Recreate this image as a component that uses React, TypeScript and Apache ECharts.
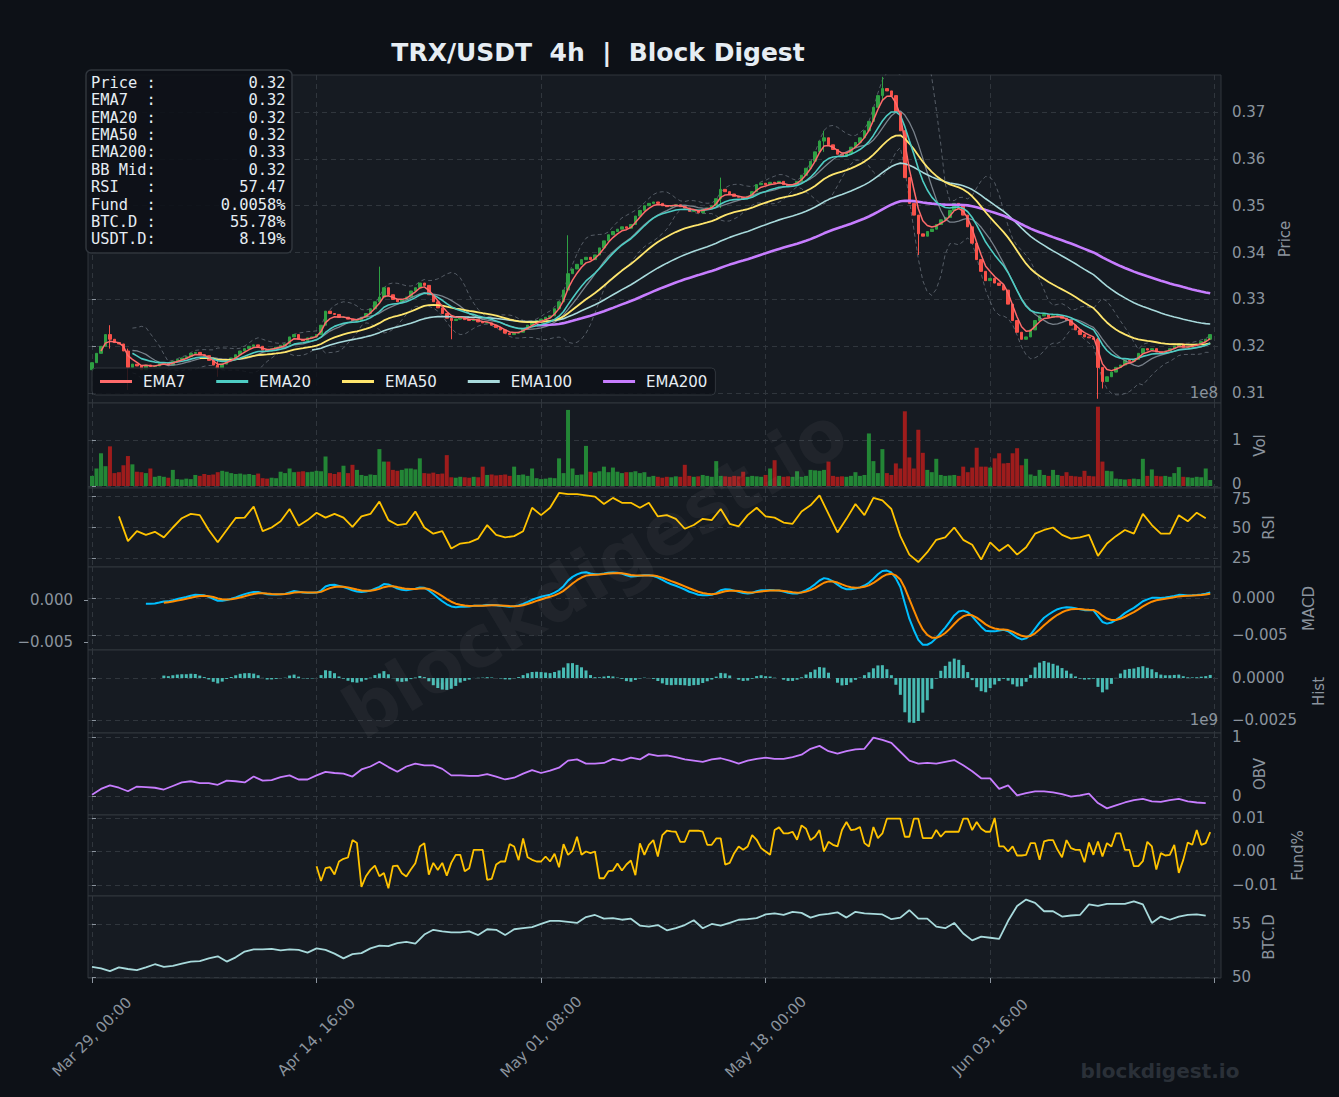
import React, { useEffect, useRef } from 'react';
import * as echarts from 'echarts';

// ---------------- DATA (8h steps) ----------------
const START_MS = Date.UTC(2025, 2, 29, 0, 0);
const STEP_MS = 8 * 3600 * 1000;
const FIRST_OPEN = 0.3150;

const closes: number[] = [
  0.3165,0.3185,0.3200,0.3225,0.3215,0.3208,0.3205,0.3190,0.3155,0.3162,
  0.3158,0.3150,0.3160,0.3157,0.3158,0.3163,0.3165,0.3160,0.3168,0.3172,
  0.3175,0.3178,0.3185,0.3187,0.3182,0.3180,0.3170,0.3160,0.3152,0.3162,
  0.3170,0.3175,0.3182,0.3190,0.3195,0.3200,0.3203,0.3200,0.3192,0.3190,
  0.3195,0.3198,0.3202,0.3205,0.3220,0.3225,0.3215,0.3212,0.3218,0.3220,
  0.3225,0.3245,0.3275,0.3270,0.3268,0.3262,0.3262,0.3258,0.3255,0.3255,
  0.3262,0.3270,0.3280,0.3295,0.3305,0.3325,0.3310,0.3300,0.3295,0.3300,
  0.3305,0.3318,0.3325,0.3335,0.3330,0.3310,0.3295,0.3282,0.3270,0.3260,
  0.3255,0.3258,0.3262,0.3257,0.3255,0.3258,0.3252,0.3250,0.3250,0.3245,
  0.3240,0.3235,0.3228,0.3225,0.3228,0.3230,0.3238,0.3245,0.3252,0.3255,
  0.3258,0.3262,0.3265,0.3280,0.3295,0.3320,0.3355,0.3365,0.3375,0.3385,
  0.3390,0.3385,0.3395,0.3410,0.3425,0.3438,0.3445,0.3450,0.3455,0.3452,
  0.3460,0.3478,0.3490,0.3500,0.3505,0.3508,0.3505,0.3500,0.3498,0.3500,
  0.3502,0.3498,0.3495,0.3488,0.3490,0.3485,0.3492,0.3495,0.3500,0.3515,
  0.3535,0.3530,0.3525,0.3520,0.3518,0.3515,0.3520,0.3530,0.3545,0.3548,
  0.3545,0.3550,0.3548,0.3552,0.3545,0.3542,0.3545,0.3552,0.3565,0.3580,
  0.3595,0.3615,0.3638,0.3645,0.3630,0.3620,0.3610,0.3605,0.3612,0.3625,
  0.3635,0.3645,0.3660,0.3680,0.3710,0.3735,0.3750,0.3745,0.3735,0.3700,
  0.3660,0.3560,0.3505,0.3480,0.3440,0.3435,0.3445,0.3450,0.3460,0.3470,
  0.3475,0.3490,0.3505,0.3500,0.3480,0.3455,0.3420,0.3385,0.3360,0.3340,
  0.3345,0.3335,0.3330,0.3320,0.3290,0.3255,0.3230,0.3215,0.3220,0.3235,
  0.3255,0.3265,0.3268,0.3262,0.3265,0.3265,0.3260,0.3255,0.3245,0.3235,
  0.3225,0.3220,0.3218,0.3215,0.3155,0.3125,0.3135,0.3145,0.3155,0.3160,
  0.3170,0.3168,0.3172,0.3185,0.3195,0.3192,0.3195,0.3188,0.3185,0.3190,
  0.3195,0.3200,0.3205,0.3198,0.3198,0.3202,0.3205,0.3210,0.3215,0.3225,
];

// notable wicks: [index, high, low]
const wicks: [number, number, number][] = [
  [4, 0.3245, 0.3195], [8, 0.3195, 0.3107], [28, 0.3170, 0.3135], [64, 0.3370, 0.3290],
  [80, 0.3262, 0.3215], [106, 0.3437, 0.3320], [140, 0.3560, 0.3495], [163, 0.3660, 0.3615],
  [176, 0.3775, 0.3725], [184, 0.3445, 0.3395], [224, 0.3218, 0.3088], [225, 0.3150, 0.3110],
];

// volume in units of 1e8
const volumes: number[] = [
  0.22,0.38,0.71,0.43,0.86,0.28,0.30,0.45,0.65,0.47,
  0.31,0.30,0.28,0.38,0.20,0.22,0.20,0.18,0.35,0.15,
  0.14,0.16,0.15,0.24,0.22,0.26,0.24,0.25,0.30,0.33,
  0.31,0.28,0.26,0.27,0.25,0.26,0.24,0.27,0.17,0.16,
  0.18,0.17,0.31,0.28,0.38,0.30,0.31,0.32,0.30,0.31,
  0.33,0.32,0.64,0.28,0.26,0.30,0.44,0.28,0.46,0.35,
  0.24,0.22,0.25,0.24,0.80,0.53,0.53,0.35,0.33,0.35,
  0.38,0.38,0.36,0.60,0.28,0.27,0.29,0.26,0.27,0.67,
  0.19,0.18,0.20,0.19,0.18,0.20,0.19,0.42,0.24,0.25,
  0.23,0.24,0.25,0.22,0.42,0.24,0.25,0.22,0.38,0.17,
  0.15,0.16,0.18,0.17,0.60,0.28,1.65,0.38,0.24,0.25,
  0.87,0.31,0.29,0.32,0.42,0.30,0.40,0.31,0.28,0.30,
  0.30,0.32,0.28,0.30,0.20,0.22,0.20,0.18,0.20,0.19,
  0.21,0.20,0.46,0.22,0.20,0.21,0.24,0.22,0.20,0.54,
  0.22,0.21,0.20,0.22,0.21,0.31,0.20,0.22,0.21,0.20,
  0.24,0.38,0.56,0.22,0.20,0.21,0.20,0.32,0.20,0.22,
  0.35,0.34,0.33,0.35,0.53,0.22,0.20,0.21,0.20,0.22,
  0.30,0.22,0.24,1.14,0.54,0.28,0.80,0.28,0.24,0.49,
  0.38,1.62,0.62,0.38,1.22,0.72,0.35,0.30,0.59,0.24,
  0.22,0.23,0.24,0.22,0.42,0.30,0.40,0.83,0.42,0.42,
  0.40,0.60,0.71,0.49,0.50,0.71,0.82,0.45,0.59,0.25,
  0.22,0.35,0.24,0.22,0.35,0.24,0.22,0.30,0.22,0.21,
  0.20,0.33,0.22,0.21,1.72,0.53,0.33,0.32,0.16,0.15,
  0.14,0.15,0.16,0.15,0.59,0.22,0.36,0.22,0.21,0.22,
  0.20,0.28,0.41,0.20,0.19,0.18,0.20,0.19,0.38,0.13,
];

// RSI read at every 2nd step from index 6
const RSI_START = 6;
const rsiValues: number[] = [
  59,39,47,44,46.5,42,50,57.5,61,60,48,38,48,57.7,58,67,47,50,55,65,
  51.5,56,62,58,61,58,50.5,59,61,71,56,52,53,63,50,45,47,33,37,38,
  41,52,44,42,43,47,66,60,66,78,77,77,76,75,69,74,70,70,66,70,
  59,60,57,49,52,57,56,65,53,51,60,66,59,58,54,53,63,68,76,61,
  46,57,69,60,74,72,65,43,28,22,30,40,42,50,40,36,24,38,31,36,
  28,34,45,48,50,44,41,42,44,27,37,43,48,45,61,52,45,45,60,55,
  62,57.47,
];

// OBV (units of 1e9) every 2nd step from index 0
const obvValues: number[] = [
  0.02,0.12,0.18,0.14,0.08,0.16,0.15,0.14,0.11,0.17,
  0.23,0.25,0.22,0.22,0.19,0.26,0.25,0.23,0.33,0.26,
  0.27,0.32,0.35,0.28,0.28,0.35,0.41,0.39,0.38,0.33,
  0.45,0.50,0.58,0.49,0.41,0.50,0.55,0.52,0.52,0.46,
  0.35,0.35,0.34,0.34,0.37,0.33,0.28,0.31,0.38,0.44,
  0.39,0.43,0.48,0.60,0.62,0.55,0.55,0.56,0.63,0.60,
  0.65,0.62,0.71,0.68,0.69,0.66,0.62,0.60,0.58,0.62,
  0.64,0.60,0.55,0.60,0.63,0.65,0.63,0.63,0.66,0.70,
  0.80,0.85,0.76,0.72,0.76,0.79,0.80,0.99,0.95,0.90,
  0.75,0.60,0.55,0.56,0.55,0.58,0.61,0.52,0.42,0.30,
  0.30,0.12,0.18,0.01,0.05,0.08,0.08,0.06,0.03,-0.01,
  0.01,0.04,-0.12,-0.21,-0.16,-0.11,-0.07,-0.05,-0.09,-0.10,
  -0.07,-0.05,-0.09,-0.11,-0.12,
];

// funding rate (%) per step from index 50
const FUND_START = 50;
const fundValues: number[] = [
  -0.0044,-0.0088,-0.0050,-0.0047,-0.0069,-0.0030,-0.0022,-0.0018,0.0034,0.0025,
  -0.0106,-0.0074,-0.0055,-0.0042,-0.0074,-0.0064,-0.0110,-0.0044,-0.0042,-0.0065,
  -0.0075,-0.0054,-0.0035,0.0015,0.0025,-0.0069,-0.0034,-0.0055,-0.0034,-0.0072,
  -0.0034,-0.0010,-0.0010,-0.0059,-0.0050,0.0005,0.0005,0.0005,-0.0085,-0.0082,
  -0.0039,-0.0030,-0.0030,0.0022,0.0015,-0.0026,0.0039,-0.0017,-0.0025,-0.0030,
  -0.0030,-0.0015,-0.0030,-0.0007,-0.0047,0.0022,-0.0010,0.0002,0.0044,-0.0010,
  0.0000,-0.0005,0.0000,-0.0080,-0.0080,-0.0059,-0.0057,-0.0036,-0.0057,-0.0039,
  -0.0027,-0.0071,0.0024,-0.0010,0.0020,0.0034,-0.0015,0.0049,0.0062,0.0060,
  0.0059,0.0029,0.0029,0.0062,0.0062,0.0062,0.0059,0.0020,0.0020,0.0039,
  0.0039,-0.0039,-0.0034,-0.0005,0.0015,0.0005,0.0015,0.0049,0.0035,0.0010,
  0.0000,-0.0010,0.0064,0.0072,0.0054,0.0054,0.0059,0.0035,0.0078,0.0068,
  0.0034,0.0044,0.0064,0.0000,0.0029,0.0020,0.0015,0.0064,0.0088,0.0064,
  0.0066,0.0073,0.0025,0.0015,0.0073,0.0040,0.0054,0.0098,0.0098,0.0098,
  0.0098,0.0044,0.0044,0.0098,0.0098,0.0040,0.0040,0.0040,0.0064,0.0044,
  0.0059,0.0059,0.0059,0.0059,0.0098,0.0098,0.0064,0.0088,0.0068,0.0059,
  0.0059,0.0100,0.0015,0.0015,0.0000,0.0015,-0.0012,-0.0012,-0.0010,0.0025,
  0.0025,-0.0025,0.0030,0.0034,0.0034,0.0005,-0.0017,0.0034,0.0010,0.0005,
  0.0005,-0.0032,0.0027,-0.0010,0.0030,-0.0015,0.0025,0.0015,0.0054,0.0054,
  0.0005,0.0005,-0.0044,-0.0044,-0.0029,0.0029,0.0015,-0.0054,-0.0005,-0.0012,
  -0.0010,0.0020,-0.0064,-0.0025,0.0027,0.0020,0.0064,0.0020,0.0025,0.0058,
];

// BTC dominance (%) every 2nd step from index 0
const btcdValues: number[] = [
  50.94,50.80,50.55,50.90,50.75,50.65,50.90,51.20,50.95,51.05,
  51.25,51.45,51.50,51.75,51.95,51.45,51.85,52.40,52.60,52.60,
  52.65,52.50,52.60,52.55,52.30,52.70,52.55,52.20,51.75,52.15,
  52.25,52.70,52.95,52.90,53.20,53.30,53.15,54.00,54.45,54.30,
  54.20,54.20,54.30,53.95,54.50,54.45,53.95,54.50,54.60,54.70,
  55.00,55.30,55.30,55.20,55.10,55.65,55.85,55.50,55.55,55.40,
  55.50,54.85,54.75,54.90,54.40,54.60,54.90,55.35,54.60,55.00,
  54.85,55.10,55.40,55.45,55.55,55.90,56.00,55.85,56.15,56.05,
  55.60,55.85,55.95,56.10,55.60,56.15,56.00,55.95,55.90,55.45,
  55.60,56.30,55.50,55.50,54.75,54.60,55.10,54.10,53.45,53.80,
  53.70,53.60,55.30,56.70,57.30,57.00,56.20,56.20,55.70,55.80,
  55.85,56.85,56.70,56.90,56.90,56.90,57.14,56.85,55.10,55.70,
  55.40,55.70,55.85,55.90,55.78,
];

const USDT_D = 8.19;

const X_TICKS = [0, 50, 100, 150, 200, 250];
const X_LABELS = [0, 50, 100, 150, 200];
const MONTHS = ['Jan','Feb','Mar','Apr','May','Jun','Jul','Aug','Sep','Oct','Nov','Dec'];

// ---------------- STYLE ----------------
const FIG_BG = '#0d1117';
const PANEL_BG = '#161b22';
const BORDER = '#30363d';
const GRIDC = '#30363d';
const GRAY = '#8b949e';
const TXT = '#e6edf3';
const UP = '#2ea043';
const DN = '#f85149';
const FONT = 'DejaVu Sans';
const FS = 15;

// ---------------- helpers ----------------
const pad2 = (n: number) => String(n).padStart(2, '0');
const fmtDate = (j: number) => {
  const d = new Date(START_MS + j * STEP_MS);
  return `${MONTHS[d.getUTCMonth()]} ${pad2(d.getUTCDate())}, ${pad2(d.getUTCHours())}:${pad2(d.getUTCMinutes())}`;
};
const minus = (s: string) => s.replace('-', '\u2212');

// EMA with a 4h span applied on 8h steps (pandas adjust=True)
function ewmAdj(src: number[], span: number, minP: number): (number | null)[] {
  const d = Math.pow(1 - 2 / (span + 1), 2);
  let num = 0, den = 0;
  return src.map((x, i) => {
    num = num * d + x; den = den * d + 1;
    return i >= minP - 1 ? num / den : null;
  });
}
function ewmRec(src: number[], span: number): number[] {
  const a = 1 - Math.pow(1 - 2 / (span + 1), 2);
  let y = src[0];
  return src.map((x, i) => (y = i === 0 ? x : y + a * (x - y)));
}
function sma(src: number[], n: number) {
  const mid: (number | null)[] = [], up: (number | null)[] = [], lo: (number | null)[] = [];
  src.forEach((_, i) => {
    if (i < n - 1) { mid.push(null); up.push(null); lo.push(null); return; }
    const w = src.slice(i - n + 1, i + 1);
    const m = w.reduce((a, b) => a + b, 0) / n;
    const sd = Math.sqrt(w.reduce((a, b) => a + (b - m) * (b - m), 0) / (n - 1));
    mid.push(m); up.push(m + 2 * sd); lo.push(m - 2 * sd);
  });
  return { mid, up, lo };
}
const pairs = (arr: (number | null)[]) => arr.map((v, i) => [i, v]).filter(p => p[1] != null);

export default function App() {
  const ref = useRef<HTMLDivElement>(null);
  useEffect(() => {
    const chart = echarts.init(ref.current!, null, { renderer: 'svg' });

    const opens = closes.map((_, j) => (j === 0 ? FIRST_OPEN : closes[j - 1]));
    const candle = closes.map((c, j) => {
      const o = opens[j];
      let hi = Math.max(o, c), lo = Math.min(o, c);
      const w = wicks.find(x => x[0] === j);
      if (w) { hi = Math.max(hi, w[1]); lo = Math.min(lo, w[2]); }
      return [j, o, c, lo, hi];
    });

    const ema7 = ewmAdj(closes, 7, 3);
    const ema20 = ewmAdj(closes, 20, 10);
    const ema50 = ewmAdj(closes, 50, 25);
    const ema100 = ewmAdj(closes, 100, 50);
    const ema200 = ewmAdj(closes, 200, 100);
    const bb = sma(closes, 10);

    const e12 = ewmRec(closes, 12), e26 = ewmRec(closes, 26);
    const MACD_START = 12;
    const macdRaw = closes.map((_, i) => e12[i] - e26[i]);
    const sigRaw = ewmRec(macdRaw.slice(MACD_START), 9);
    const SIG_START = MACD_START + 4;
    const macd = macdRaw.map((v, i) => (i >= MACD_START ? v : null));
    const signal = closes.map((_, i) => (i >= SIG_START ? sigRaw[i - MACD_START] : null));
    const hist = closes.map((_, i) => (i >= SIG_START ? macdRaw[i] - sigRaw[i - MACD_START] : null));

    const last = closes.length - 1;
    const info: [string, string][] = [
      ['Price :', closes[last].toFixed(2)],
      ['EMA7  :', (ema7[last] as number).toFixed(2)],
      ['EMA20 :', (ema20[last] as number).toFixed(2)],
      ['EMA50 :', (ema50[last] as number).toFixed(2)],
      ['EMA200:', (ema200[last] as number).toFixed(2)],
      ['BB Mid:', (bb.mid[last] as number).toFixed(2)],
      ['RSI   :', rsiValues[rsiValues.length - 1].toFixed(2)],
      ['Fund  :', fundValues[fundValues.length - 1].toFixed(4) + '%'],
      ['BTC.D :', btcdValues[btcdValues.length - 1].toFixed(2) + '%'],
      ['USDT.D:', USDT_D.toFixed(2) + '%'],
    ];
    const infoText = info.map(([k, v]) => k + v.padStart(14)).join('\n');

    const panels = [
      { top: 75, h: 328 }, { top: 403, h: 85 }, { top: 488, h: 79 }, { top: 567, h: 83 },
      { top: 650, h: 83 }, { top: 733, h: 82 }, { top: 815, h: 81 }, { top: 896, h: 82 },
    ];
    const grid = panels.map(p => ({
      left: 88, width: 1133, top: p.top, height: p.h, show: true,
      backgroundColor: PANEL_BG, borderColor: BORDER, borderWidth: 1, containLabel: false,
    }));
    const dash = { color: GRIDC, type: [5, 4] as any, width: 1 };

    const xAxis = panels.map((_, i) => {
      const bottom = i === panels.length - 1;
      return {
        type: 'value', gridIndex: i, min: -0.89, max: 251.4,
        axisLine: { show: false },
        axisTick: { show: bottom, customValues: X_TICKS, length: 5, lineStyle: { color: GRAY } },
        axisLabel: bottom
          ? { show: true, customValues: X_LABELS, formatter: (v: number) => fmtDate(v), rotate: 45,
              align: 'center', verticalAlign: 'middle', margin: 59, color: GRAY, fontSize: FS, fontFamily: FONT }
          : { show: false },
        splitLine: { show: true, lineStyle: dash },
      };
    });

    // rich styles used to nudge the two touching labels (Vol "0" / RSI "75") apart slightly
    const rich = {
      up: { color: GRAY, fontSize: FS, fontFamily: FONT, padding: [0, 0, 5, 0], lineHeight: 11 },
      dn: { color: GRAY, fontSize: FS, fontFamily: FONT, padding: [5, 0, 0, 0], lineHeight: 11 },
    };

    const yAx = (gi: number, min: number, max: number, ticks: number[], fmt: (v: number) => string,
      name: string, gap: number, position = 'right', split = true, margin = 11) => ({
      type: 'value', gridIndex: gi, position, min, max,
      axisLine: { show: false },
      axisTick: { show: true, customValues: ticks, length: 4, lineStyle: { color: GRAY } },
      axisLabel: { show: true, customValues: ticks, formatter: fmt, color: GRAY, fontSize: FS, lineHeight: 11, fontFamily: FONT, margin, rich },
      splitLine: { show: split, lineStyle: dash },
      name, nameLocation: 'middle', nameGap: gap, nameRotate: 90,
      nameTextStyle: { color: GRAY, fontSize: 15, fontFamily: FONT },
    });

    const yAxis = [
      yAx(0, 0.3079, 0.3779, [0.31, 0.32, 0.33, 0.34, 0.35, 0.36, 0.37], v => v.toFixed(2), 'Price', 56),
      yAx(1, -0.043, 1.80, [0, 1], v => (v === 0 ? '{up|0}' : v.toFixed(0)), 'Vol', 29),
      yAx(2, 18, 82, [25, 50, 75], v => (v === 75 ? '{dn|75}' : v.toFixed(0)), 'RSI', 40),
      yAx(3, -0.0070, 0.0042, [-0.005, 0], v => minus(v.toFixed(3)), 'MACD', 80),
      yAx(4, -0.00327, 0.00167, [-0.0025, 0], v => minus(v.toFixed(4)), 'Hist', 90),
      yAx(5, -0.322, 1.068, [0, 1], v => v.toFixed(0), 'OBV', 28),
      yAx(6, -0.0133, 0.0109, [-0.01, 0, 0.01], v => minus(v.toFixed(2)), 'Fund%', 69),
      yAx(7, 49.9, 57.64, [50, 55], v => v.toFixed(0), 'BTC.D', 39),
      yAx(3, -0.00595, 0.0039, [-0.005, 0], v => minus(v.toFixed(3)), '', 0, 'left', false, 15),
    ];

    const line = (name: string, data: any[], color: string, width: number, xi: number, yi: number, extra: any = {}) => ({
      type: 'line', name, data, xAxisIndex: xi, yAxisIndex: yi, showSymbol: false, symbol: 'none',
      lineStyle: { color, width, ...(extra.lineStyle || {}) }, itemStyle: { color }, z: extra.z ?? 3,
      silent: true, clip: true,
    });

    const series: any[] = [
      {
        type: 'candlestick', name: 'Price', xAxisIndex: 0, yAxisIndex: 0, data: candle,
        encode: { x: 0, y: [1, 2, 3, 4] }, barWidth: 3,
        itemStyle: { color: UP, color0: DN, borderColor: UP, borderColor0: DN, borderWidth: 1 }, z: 2,
      },
      line('BB Up', pairs(bb.up), 'rgba(139,148,158,0.55)', 1, 0, 0, { lineStyle: { type: [4, 3] }, z: 2 }),
      line('BB Lo', pairs(bb.lo), 'rgba(139,148,158,0.55)', 1, 0, 0, { lineStyle: { type: [4, 3] }, z: 2 }),
      line('BB Mid', pairs(bb.mid), 'rgba(139,148,158,0.85)', 1.3, 0, 0),
      line('EMA100', pairs(ema100), '#a8dadc', 1.6, 0, 0),
      line('EMA200', pairs(ema200), '#c77dff', 2.6, 0, 0),
      line('EMA50', pairs(ema50), '#ffe66d', 1.8, 0, 0),
      line('EMA20', pairs(ema20), '#4ecdc4', 1.6, 0, 0),
      line('EMA7', pairs(ema7), '#ff6b6b', 1.5, 0, 0),
      {
        type: 'bar', name: 'Vol', xAxisIndex: 1, yAxisIndex: 1, barWidth: 4,
        data: volumes.map((v, j) => ({ value: [j, v], itemStyle: { color: closes[j] >= opens[j] ? '#238636' : '#9e1c1c' } })),
      },
      line('RSI', rsiValues.map((v, k) => [RSI_START + 2 * k, v]), '#ffc300', 1.8, 2, 2),
      line('MACD', pairs(macd), '#00bfff', 2, 3, 3),
      line('Signal', pairs(signal), '#ff8c00', 2, 3, 3),
      {
        type: 'bar', name: 'Hist', xAxisIndex: 4, yAxisIndex: 4, barWidth: 3,
        data: pairs(hist), itemStyle: { color: 'rgba(78,205,196,0.9)' },
      },
      line('OBV', obvValues.map((v, k) => [2 * k, v]), '#c77dff', 1.8, 5, 5),
      line('Fund', fundValues.map((v, k) => [FUND_START + k, v]), '#ffc300', 1.8, 6, 6),
      line('BTC.D', btcdValues.map((v, k) => [2 * k, v]), '#a8dadc', 1.8, 7, 7),
    ];

    const option: any = {
      animation: false,
      backgroundColor: FIG_BG,
      textStyle: { fontFamily: FONT },
      grid, xAxis, yAxis, series,
      legend: {
        show: true, left: 92, top: 368, orient: 'horizontal',
        data: ['EMA7', 'EMA20', 'EMA50', 'EMA100', 'EMA200'],
        icon: 'rect', itemWidth: 32, itemHeight: 3, itemGap: 31,
        padding: [6, 8, 6, 8], backgroundColor: 'rgba(13,17,23,0.85)', borderColor: BORDER, borderWidth: 1, borderRadius: 4,
        textStyle: { color: TXT, fontSize: FS, fontFamily: FONT, padding: [0, 0, 0, 6] },
        selectedMode: false,
      },
      graphic: [
        { type: 'text', silent: true, z: 50, x: 595, y: 572, rotation: (31 * Math.PI) / 180,
          style: { text: 'blockdigest.io', fill: 'rgba(255,255,255,0.045)', font: `bold 72px "${FONT}"`, textAlign: 'center', textVerticalAlign: 'middle' } },
        { type: 'text', silent: true, z: 100, x: 598, y: 52,
          style: { text: 'TRX/USDT  4h  |  Block Digest', fill: TXT, font: `bold 25px "${FONT}"`, textAlign: 'center', textVerticalAlign: 'middle' } },
        { type: 'rect', silent: true, z: 100, shape: { x: 86, y: 70, width: 206, height: 183, r: 5 },
          style: { fill: 'rgba(13,17,23,0.9)', stroke: BORDER, lineWidth: 1.5 } },
        { type: 'text', silent: true, z: 101, x: 91, y: 74,
          style: { text: infoText, fill: TXT, font: `15.4px "DejaVu Sans Mono"`, lineHeight: 17.4, textAlign: 'left', textVerticalAlign: 'top' } },
        { type: 'text', silent: true, z: 100, x: 1218, y: 393,
          style: { text: '1e8', fill: GRAY, font: `${FS}px "${FONT}"`, textAlign: 'right', textVerticalAlign: 'middle' } },
        { type: 'text', silent: true, z: 100, x: 1218, y: 720,
          style: { text: '1e9', fill: GRAY, font: `${FS}px "${FONT}"`, textAlign: 'right', textVerticalAlign: 'middle' } },
        { type: 'text', silent: true, z: 100, x: 1160, y: 1071,
          style: { text: 'blockdigest.io', fill: '#2a3038', font: `bold 20px "${FONT}"`, textAlign: 'center', textVerticalAlign: 'middle' } },
      ],
    };
    chart.setOption(option);
    return () => chart.dispose();
  }, []);
  return <div ref={ref} style={{ position: 'fixed', left: 0, top: 0, width: 1339, height: 1097 }} />;
}
